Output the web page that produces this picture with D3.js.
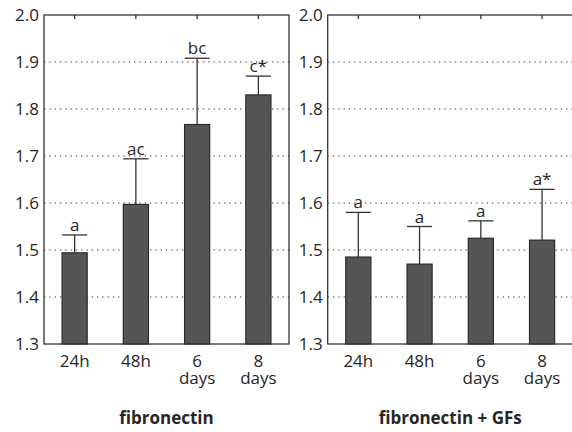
<!DOCTYPE html>
<html>
<head>
<meta charset="utf-8">
<script src="https://cdn.jsdelivr.net/npm/d3@7"></script>
<style>
  body { margin: 0; background: #fff; }
  text { font-family: "Open Sans", "Noto Sans", sans-serif; fill: #262626; }
</style>
</head>
<body>
<script>
const categories = ["24h", "48h", "6 days", "8 days"];
const yTicks = [1.3, 1.4, 1.5, 1.6, 1.7, 1.8, 1.9, 2.0];

const fnMean = [1.494, 1.597, 1.767, 1.830];
const fnUpper = [1.532, 1.694, 1.908, 1.870];
const fnLetters = ["a", "ac", "bc", "c*"];

const gfMean = [1.485, 1.470, 1.525, 1.521];
const gfUpper = [1.580, 1.550, 1.562, 1.629];
const gfLetters = ["a", "a", "a", "a*"];

const panels = [
  { title: "fibronectin", mean: fnMean, upper: fnUpper, letters: fnLetters, left: 44 },
  { title: "fibronectin + GFs", mean: gfMean, upper: gfUpper, letters: gfLetters, left: 327.7 }
];

var marginTop = 15, width = 245, height = 329;

var svg = d3.select('body').append('svg')
    .attr('width', 572)
    .attr('height', 432);

var x = d3.scaleBand()
    .domain(categories)
    .range([0, width])
    .paddingInner(0.59)
    .paddingOuter(0.295);

var y = d3.scaleLinear()
    .domain([1.3, 2.0])
    .range([height, 0]);

panels.forEach(function (p) {
  var g = svg.append('g')
      .attr('transform', 'translate(' + p.left + ',' + marginTop + ')');

  // dotted grid
  g.selectAll('.grid')
    .data(yTicks.filter(function (t) { return t > 1.3 && t < 2.0; }))
    .enter().append('line')
    .attr('x1', 0).attr('x2', width)
    .attr('y1', function (d) { return y(d); })
    .attr('y2', function (d) { return y(d); })
    .attr('stroke', '#333')
    .attr('stroke-width', 1.2)
    .attr('stroke-dasharray', '1.3,4');

  // y tick labels
  g.selectAll('.ylab')
    .data(yTicks)
    .enter().append('text')
    .attr('x', -5)
    .attr('y', function (d) { return y(d); })
    .attr('dy', '0.35em')
    .attr('text-anchor', 'end')
    .style('font-size', '17px')
    .text(function (d) { return d.toFixed(1); });

  var rows = categories.map(function (c, i) {
    return { cat: c, mean: p.mean[i], upper: p.upper[i], letter: p.letters[i] };
  });

  // error bars
  g.selectAll('.err')
    .data(rows)
    .enter().append('line')
    .attr('x1', function (d) { return x(d.cat) + x.bandwidth() / 2; })
    .attr('x2', function (d) { return x(d.cat) + x.bandwidth() / 2; })
    .attr('y1', function (d) { return y(d.mean); })
    .attr('y2', function (d) { return y(d.upper); })
    .attr('stroke', '#333')
    .attr('stroke-width', 1.3);

  g.selectAll('.cap')
    .data(rows)
    .enter().append('line')
    .attr('x1', function (d) { return x(d.cat); })
    .attr('x2', function (d) { return x(d.cat) + x.bandwidth(); })
    .attr('y1', function (d) { return y(d.upper); })
    .attr('y2', function (d) { return y(d.upper); })
    .attr('stroke', '#333')
    .attr('stroke-width', 1.3);

  // bars
  g.selectAll('.bar')
    .data(rows)
    .enter().append('rect')
    .attr('x', function (d) { return x(d.cat); })
    .attr('y', function (d) { return y(d.mean); })
    .attr('width', x.bandwidth())
    .attr('height', function (d) { return height - y(d.mean); })
    .attr('fill', '#555')
    .attr('stroke', '#2a2a2a')
    .attr('stroke-width', 1.2);

  // significance letters
  g.selectAll('.letter')
    .data(rows)
    .enter().append('text')
    .attr('x', function (d) { return x(d.cat) + x.bandwidth() / 2; })
    .attr('y', function (d) { return y(d.upper) - 4; })
    .attr('text-anchor', 'middle')
    .style('font-size', '17px')
    .text(function (d) { return d.letter; });

  // frame
  g.append('rect')
    .attr('x', 0).attr('y', 0)
    .attr('width', width).attr('height', height)
    .attr('fill', 'none')
    .attr('stroke', '#333')
    .attr('stroke-width', 1.3);

  // top ticks
  g.selectAll('.tick')
    .data(categories)
    .enter().append('line')
    .attr('x1', function (d) { return x(d) + x.bandwidth() / 2; })
    .attr('x2', function (d) { return x(d) + x.bandwidth() / 2; })
    .attr('y1', 0).attr('y2', 4)
    .attr('stroke', '#333')
    .attr('stroke-width', 1.3);

  // x labels
  var xl = g.selectAll('.xlab')
    .data(categories)
    .enter().append('text')
    .attr('text-anchor', 'middle')
    .attr('y', height + 23)
    .style('font-size', '17px');
  xl.each(function (d) {
    var parts = d.split(' ');
    var t = d3.select(this);
    parts.forEach(function (s, i) {
      t.append('tspan')
        .attr('x', x(d) + x.bandwidth() / 2)
        .attr('dy', i === 0 ? 0 : 17)
        .text(s);
    });
  });

  // panel title
  g.append('text')
    .attr('x', width / 2)
    .attr('y', height + 80)
    .attr('text-anchor', 'middle')
    .style('font-size', '17px')
    .style('font-weight', 'bold')
    .text(p.title);
});
</script>
</body>
</html>
